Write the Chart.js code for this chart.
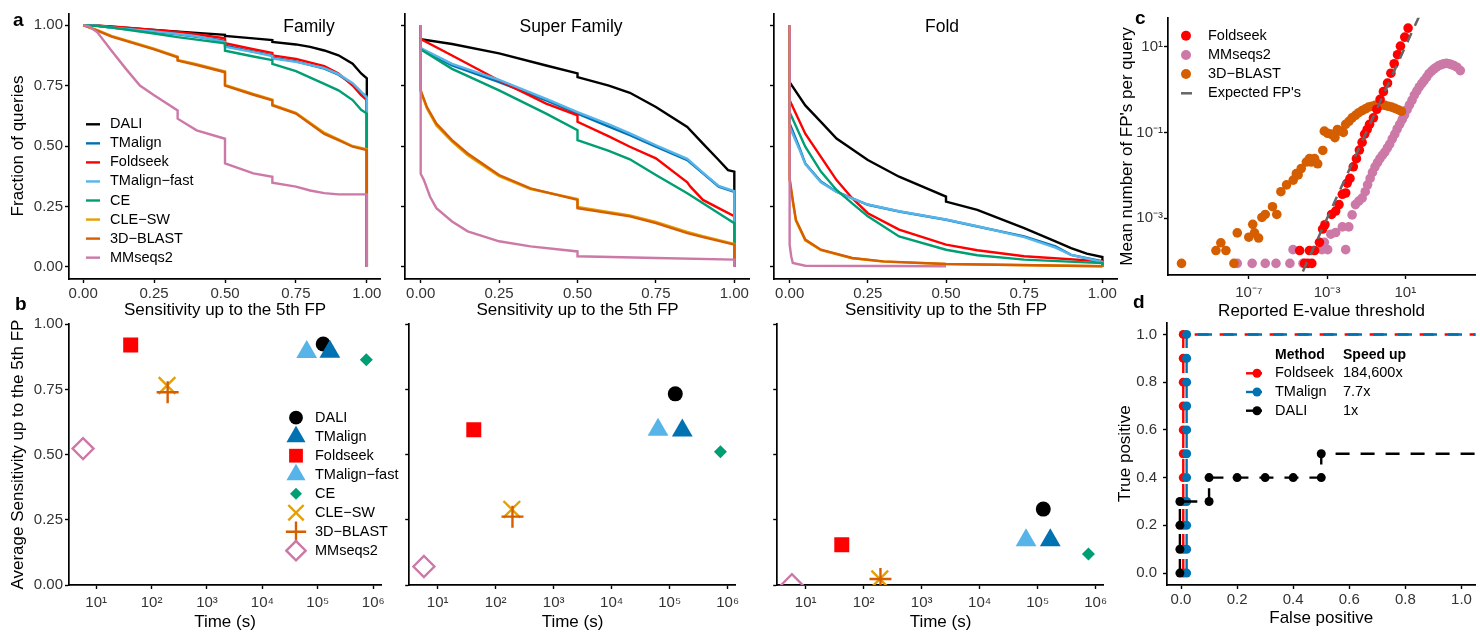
<!DOCTYPE html>
<html>
<head>
<meta charset="utf-8">
<title>Foldseek benchmark</title>
<script src="https://cdn.jsdelivr.net/npm/chart.js@4.4.1/dist/chart.umd.min.js"></script>
<style>
  html, body { margin: 0; padding: 0; background: #fff; }
  body { position: relative; width: 1480px; height: 633px; overflow: hidden; font-family: "Liberation Sans", Arial, Helvetica, sans-serif; }
  canvas { position: absolute; }
  .txt { position: absolute; white-space: nowrap; line-height: 0; color: #000; }
</style>
</head>
<body>
<script>
const FONT = '"Liberation Sans", Arial, Helvetica, sans-serif';
Chart.defaults.font.family = FONT;

const methods = ['DALI', 'TMalign', 'Foldseek', 'TMalign\u2212fast', 'CE', 'CLE\u2212SW', '3D\u2212BLAST', 'MMseqs2'];
const methodColors = ['#000000', '#0072B2', '#FF0000', '#56B4E9', '#009E73', '#E69F00', '#D55E00', '#CC79A7'];
const markerShapes = ['circle', 'triangle', 'rect', 'triangle', 'rectRot', 'crossRot', 'cross', 'rectRot'];
const markerRadius = [7.5, 12, 10.6, 12, 6.5, 11.8, 11, 10.5];

// a: fraction of queries vs sensitivity up to the 5th FP ([x, y], in method order)
const curvesFamily = [
  [[0,1],[0.05,0.998],[0.1,0.993],[0.25,0.98],[0.4,0.968],[0.5,0.96],[0.5,0.955],[0.6,0.945],[0.667,0.938],[0.667,0.93],[0.75,0.92],[0.8,0.91],[0.85,0.895],[0.9,0.875],[0.95,0.84],[0.98,0.8],[1,0.78],[1,0]],
  [[0,1],[0.05,0.997],[0.1,0.99],[0.25,0.972],[0.333,0.962],[0.4,0.952],[0.5,0.935],[0.5,0.915],[0.6,0.89],[0.667,0.875],[0.667,0.865],[0.75,0.85],[0.85,0.82],[0.9,0.795],[0.95,0.755],[0.98,0.72],[1,0.705],[1,0]],
  [[0,1],[0.05,0.998],[0.1,0.994],[0.25,0.98],[0.333,0.972],[0.4,0.962],[0.5,0.945],[0.5,0.925],[0.6,0.9],[0.667,0.885],[0.667,0.875],[0.75,0.86],[0.85,0.83],[0.9,0.8],[0.95,0.75],[0.98,0.71],[1,0.69],[1,0]],
  [[0,1],[0.05,0.997],[0.1,0.99],[0.25,0.974],[0.333,0.963],[0.4,0.954],[0.5,0.93],[0.5,0.91],[0.6,0.888],[0.667,0.872],[0.667,0.862],[0.75,0.848],[0.85,0.822],[0.9,0.797],[0.95,0.76],[0.98,0.725],[1,0.7],[1,0]],
  [[0,1],[0.05,0.996],[0.1,0.99],[0.25,0.965],[0.333,0.95],[0.4,0.94],[0.5,0.925],[0.5,0.894],[0.6,0.87],[0.667,0.855],[0.667,0.84],[0.75,0.81],[0.85,0.757],[0.9,0.73],[0.95,0.69],[0.98,0.65],[1,0.634],[1,0]],
  [[0,1],[0.05,0.979],[0.1,0.955],[0.2,0.92],[0.25,0.903],[0.333,0.87],[0.333,0.856],[0.4,0.838],[0.5,0.808],[0.5,0.753],[0.6,0.715],[0.667,0.692],[0.667,0.671],[0.75,0.637],[0.85,0.555],[0.9,0.528],[0.95,0.5],[1,0.487],[1,0]],
  [[0,1],[0.05,0.977],[0.1,0.952],[0.2,0.917],[0.25,0.9],[0.333,0.867],[0.333,0.853],[0.4,0.835],[0.5,0.805],[0.5,0.75],[0.6,0.712],[0.667,0.689],[0.667,0.668],[0.75,0.634],[0.85,0.55],[0.9,0.524],[0.95,0.497],[1,0.483],[1,0]],
  [[0,1],[0.02,0.995],[0.05,0.97],[0.1,0.894],[0.15,0.82],[0.2,0.75],[0.25,0.71],[0.333,0.647],[0.333,0.613],[0.4,0.565],[0.5,0.53],[0.5,0.428],[0.6,0.387],[0.667,0.373],[0.667,0.348],[0.75,0.332],[0.8,0.316],[0.85,0.305],[0.9,0.3],[1,0.3],[1,0]]
];
const curvesSuperFamily = [
  [[0,1],[0,0.942],[0.1,0.922],[0.25,0.883],[0.4,0.833],[0.5,0.8],[0.5,0.785],[0.6,0.75],[0.667,0.72],[0.75,0.661],[0.85,0.579],[0.9,0.51],[0.95,0.442],[0.98,0.4],[1,0.394],[1,0]],
  [[0,1],[0,0.9],[0.1,0.833],[0.25,0.764],[0.4,0.689],[0.5,0.634],[0.6,0.58],[0.667,0.545],[0.75,0.497],[0.85,0.442],[0.9,0.387],[0.95,0.332],[1,0.31],[1,0]],
  [[0,1],[0,0.942],[0.1,0.874],[0.25,0.771],[0.4,0.675],[0.5,0.627],[0.5,0.6],[0.6,0.54],[0.667,0.497],[0.75,0.449],[0.85,0.35],[0.86,0.332],[0.9,0.277],[0.95,0.243],[1,0.21],[1,0]],
  [[0,1],[0,0.905],[0.1,0.84],[0.25,0.773],[0.4,0.695],[0.5,0.64],[0.6,0.59],[0.667,0.552],[0.75,0.503],[0.85,0.447],[0.9,0.39],[0.95,0.335],[1,0.313],[1,0]],
  [[0,1],[0,0.9],[0.1,0.819],[0.25,0.73],[0.4,0.634],[0.5,0.565],[0.5,0.524],[0.6,0.48],[0.667,0.445],[0.75,0.38],[0.85,0.305],[0.9,0.263],[0.95,0.222],[1,0.181],[1,0]],
  [[0,1],[0,0.725],[0.02,0.655],[0.05,0.585],[0.1,0.518],[0.15,0.462],[0.25,0.375],[0.35,0.322],[0.5,0.281],[0.5,0.248],[0.667,0.213],[0.75,0.186],[0.85,0.145],[0.9,0.127],[1,0.095],[1,0]],
  [[0,1],[0,0.73],[0.02,0.661],[0.05,0.593],[0.1,0.524],[0.15,0.469],[0.25,0.38],[0.35,0.325],[0.5,0.277],[0.5,0.243],[0.667,0.209],[0.75,0.181],[0.85,0.14],[0.9,0.123],[1,0.092],[1,0]],
  [[0,1],[0,0.385],[0.01,0.36],[0.03,0.29],[0.05,0.243],[0.1,0.188],[0.15,0.147],[0.25,0.106],[0.35,0.085],[0.5,0.064],[0.5,0.044],[0.75,0.037],[1,0.03],[1,0]]
];
const curvesFold = [
  [[0,1],[0,0.764],[0.05,0.668],[0.1,0.6],[0.15,0.531],[0.25,0.442],[0.35,0.373],[0.5,0.291],[0.5,0.27],[0.6,0.236],[0.75,0.16],[0.85,0.106],[0.9,0.078],[0.95,0.055],[1,0.041],[1,0]],
  [[0,1],[0,0.593],[0.03,0.497],[0.05,0.428],[0.1,0.353],[0.15,0.311],[0.2,0.284],[0.25,0.257],[0.35,0.229],[0.5,0.195],[0.6,0.167],[0.75,0.126],[0.85,0.085],[0.9,0.05],[1,0.023],[1,0]],
  [[0,1],[0,0.689],[0.05,0.551],[0.1,0.455],[0.15,0.359],[0.2,0.284],[0.25,0.222],[0.35,0.154],[0.5,0.092],[0.6,0.069],[0.75,0.044],[1,0.023],[1,0]],
  [[0,1],[0,0.58],[0.03,0.49],[0.05,0.425],[0.1,0.35],[0.15,0.31],[0.2,0.283],[0.25,0.258],[0.35,0.23],[0.5,0.196],[0.6,0.168],[0.75,0.123],[0.85,0.08],[0.9,0.05],[1,0.02],[1,0]],
  [[0,1],[0,0.64],[0.05,0.497],[0.1,0.394],[0.15,0.318],[0.2,0.263],[0.25,0.209],[0.35,0.126],[0.5,0.071],[0.6,0.048],[0.75,0.03],[1,0.016],[1,0]],
  [[0,1],[0,0.36],[0.01,0.27],[0.02,0.19],[0.05,0.11],[0.1,0.069],[0.2,0.036],[0.3,0.022],[0.5,0.012],[1,0.003],[1,0]],
  [[0,1],[0,0.366],[0.01,0.277],[0.02,0.195],[0.05,0.113],[0.1,0.071],[0.2,0.037],[0.3,0.023],[0.5,0.012],[1,0.003],[1,0]],
  [[0,1],[0,0.092],[0.005,0.044],[0.01,0.016],[0.05,0.005],[0.5,0.003]]
];

// b: runtime (s) and average sensitivity up to the 5th FP, method order
const runtimeSec = [1.25e5, 1.65e5, 42, 6.3e4, 7.5e5, 190, 195, 5.8];
const sensFamily = [0.924, 0.894, 0.92, 0.893, 0.864, 0.765, 0.739, 0.523];
const sensSuperFamily = [0.733, 0.592, 0.595, 0.595, 0.511, 0.29, 0.262, 0.071];
const sensFold = [0.291, 0.172, 0.154, 0.172, 0.119, 0.023, 0.023, 0.001];

// c: [log10 E-value threshold, log10 mean FPs per query]
const fpFoldseek = [[-4.4,-3.75],[-4.15,-4.05],[-3.98,-4.05],[-3.78,-4.05],[-3.9,-3.75],[-3.64,-3.75],[-3.39,-3.56],[-3.23,-3.25],[-3.11,-3.15],[-2.77,-2.91],[-2.56,-2.83],[-2.39,-2.68],[-2.22,-2.44],[-2.05,-2.41],[-1.97,-2.18],[-1.83,-2.07],[-1.66,-1.8],[-1.5,-1.61],[-1.35,-1.41],[-1.21,-1.23],[-1.08,-1.04],[-0.95,-0.93],[-0.83,-0.81],[-0.63,-0.66],[-0.46,-0.46],[-0.29,-0.23],[-0.12,-0.05],[0.09,0.15],[0.26,0.38],[0.43,0.6],[0.6,0.81],[0.75,1.01],[0.97,1.22],[1.14,1.43]];
const fpMMseqs2 = [[-7.59,-4.05],[-6.83,-4.05],[-6.16,-4.05],[-5.61,-4.05],[-4.9,-4.05],[-4.74,-3.73],[-4.23,-4.05],[-3.26,-3.73],[-3.14,-3.56],[-2.97,-3.73],[-2.81,-3.37],[-2.56,-3.33],[-2.22,-3.2],[-2.05,-3.73],[-1.89,-3.2],[-1.72,-2.92],[-1.55,-2.68],[-1.38,-2.6],[-1.21,-2.53],[-1.05,-2.38],[-0.93,-2.22],[-0.8,-2.07],[-0.68,-1.93],[-0.55,-1.8],[-0.42,-1.7],[-0.3,-1.61],[-0.17,-1.53],[-0.05,-1.46],[0.08,-1.36],[0.2,-1.27],[0.33,-1.15],[0.46,-1.04],[0.58,-0.92],[0.71,-0.81],[0.84,-0.7],[0.96,-0.59],[1.09,-0.47],[1.21,-0.36],[1.34,-0.25],[1.46,-0.13],[1.59,-0.03],[1.71,0.06],[1.84,0.14],[1.96,0.21],[2.09,0.29],[2.21,0.37],[2.34,0.43],[2.47,0.48],[2.59,0.52],[2.72,0.56],[2.85,0.58],[2.97,0.6],[3.1,0.61],[3.23,0.6],[3.35,0.58],[3.48,0.56],[3.64,0.52],[3.81,0.44]];
const fp3DBLAST = [[-10.44,-4.05],[-8.68,-3.75],[-8.43,-3.57],[-8.17,-3.75],[-7.76,-4.05],[-7.59,-3.34],[-7.0,-3.44],[-6.8,-3.14],[-6.71,-3.34],[-6.5,-3.46],[-6.33,-2.98],[-6.16,-2.91],[-5.79,-2.73],[-5.57,-2.91],[-5.36,-2.38],[-5.07,-2.22],[-4.73,-2.11],[-4.57,-1.96],[-4.48,-1.99],[-4.32,-1.84],[-4.06,-1.69],[-3.9,-1.61],[-3.81,-1.69],[-3.64,-1.61],[-3.48,-1.73],[-3.22,-1.42],[-3.14,-0.97],[-2.97,-1.02],[-2.81,-1.04],[-2.6,-1.12],[-2.47,-0.93],[-2.3,-0.97],[-2.17,-1.0],[-2.05,-0.81],[-1.88,-0.74],[-1.72,-0.66],[-1.55,-0.6],[-1.38,-0.54],[-1.21,-0.49],[-1.04,-0.45],[-0.88,-0.41],[-0.71,-0.39],[-0.54,-0.37],[-0.37,-0.37],[-0.21,-0.36],[-0.04,-0.37],[0.13,-0.39],[0.3,-0.41],[0.47,-0.44],[0.63,-0.47],[0.8,-0.51]];
const fpExpected = [[-5,-5],[3,3]];

// d: [false positive, true positive]
const rocFoldseek = [[0.008,0],[0.008,0.1],[0.008,0.2],[0.008,0.3],[0.008,0.4],[0.008,0.5],[0.008,0.6],[0.008,0.7],[0.008,0.8],[0.008,0.9],[0.008,1],[1.3,1]];
const rocTMalign = [[0.02,0],[0.02,0.1],[0.02,0.2],[0.02,0.3],[0.02,0.4],[0.02,0.5],[0.02,0.6],[0.02,0.7],[0.02,0.8],[0.02,0.9],[0.02,1],[1.3,1]];
const rocDALI = [[-0.004,0],[-0.004,0.1],[-0.004,0.2],[-0.004,0.3],[0.1,0.3],[0.1,0.4],[0.2,0.4],[0.3,0.4],[0.4,0.4],[0.5,0.4],[0.5,0.5],[1.3,0.5]];
const rocMethods = ['Foldseek', 'TMalign', 'DALI'];
const rocColors = ['#FF0000', '#0072B2', '#000000'];
const speedUp = ['184,600x', '7.7x', '1x'];

const sensTicks = [0, 0.25, 0.5, 0.75, 1];
const timeTicks = [1e1, 1e2, 1e3, 1e4, 1e5, 1e6];
const evalueTicks = [1e-7, 1e-3, 1e1];
const fpTicks = [1e-3, 1e-1, 1e1];
const rateTicks = [0, 0.2, 0.4, 0.6, 0.8, 1];

const SUP = {'-': '\u207B', '0': '\u2070', '1': '\u00B9', '2': '\u00B2', '3': '\u00B3', '4': '\u2074', '5': '\u2075', '6': '\u2076', '7': '\u2077', '8': '\u2078', '9': '\u2079'};
const pow10 = v => '10' + String(Math.round(Math.log10(v))).split('').map(c => SUP[c]).join('');
const fixed = n => v => Number(v).toFixed(n);
const blank = () => '';
const fromLog = arr => arr.map(p => ({x: Math.pow(10, p[0]), y: Math.pow(10, p[1])}));
const xy = arr => arr.map(p => ({x: p[0], y: p[1]}));

function axis(o) {
  const vertical = o.pos === 'left';
  return {
    type: o.log ? 'logarithmic' : 'linear',
    position: o.pos,
    min: o.min, max: o.max,
    border: {display: true, color: '#000', width: 1.7},
    grid: {display: true, drawOnChartArea: false, drawTicks: true, tickLength: 4, tickWidth: 1.4, tickColor: '#000', color: '#000'},
    ticks: {autoSkip: false, maxRotation: 0, minRotation: 0, padding: o.pad, color: '#333', font: {size: 15}, callback: o.fmt},
    afterBuildTicks: s => { s.ticks = o.ticks.map(v => ({value: v})); },
    afterFit: s => {
      if (vertical) s.width = o.size; else s.height = o.size;
      s.paddingLeft = s.paddingRight = s.paddingTop = s.paddingBottom = 0;
    },
    title: o.title ? {display: true, text: o.title, color: '#000', font: {size: 17}, padding: {top: o.tpad, bottom: o.tpad}} : {display: false}
  };
}

function drawMarker(ctx, shape, x, y, r) {
  ctx.beginPath();
  if (shape === 'circle') {
    ctx.arc(x, y, r, 0, Math.PI * 2);
  } else if (shape === 'triangle') {
    ctx.moveTo(x, y - r);
    ctx.lineTo(x + r * 0.866, y + r * 0.5);
    ctx.lineTo(x - r * 0.866, y + r * 0.5);
    ctx.closePath();
  } else if (shape === 'rect') {
    const s = r * Math.SQRT1_2;
    ctx.rect(x - s, y - s, 2 * s, 2 * s);
  } else if (shape === 'rectRot') {
    ctx.moveTo(x - r, y); ctx.lineTo(x, y - r); ctx.lineTo(x + r, y); ctx.lineTo(x, y + r);
    ctx.closePath();
  } else if (shape === 'cross') {
    ctx.moveTo(x - r, y); ctx.lineTo(x + r, y); ctx.moveTo(x, y - r); ctx.lineTo(x, y + r);
  } else if (shape === 'crossRot') {
    const s = r * Math.SQRT1_2;
    ctx.moveTo(x - s, y - s); ctx.lineTo(x + s, y + s); ctx.moveTo(x + s, y - s); ctx.lineTo(x - s, y + s);
  }
}

// legend keys drawn on the chart canvas, given in page pixels
function overlayPlugin(items, ox, oy) {
  return {
    id: 'overlay',
    afterDraw(chart) {
      const ctx = chart.ctx;
      ctx.save();
      ctx.translate(-ox, -oy);
      items.forEach(it => {
        if (it.line) {
          ctx.beginPath();
          ctx.setLineDash([]);
          ctx.strokeStyle = it.color;
          ctx.lineWidth = it.width || 2.4;
          ctx.moveTo(it.line[0], it.line[1]);
          ctx.lineTo(it.line[2], it.line[3]);
          ctx.stroke();
        }
        if (it.marker) {
          drawMarker(ctx, it.marker, it.x, it.y, it.r);
          if (it.open || it.marker.indexOf('cross') === 0) {
            ctx.strokeStyle = it.color; ctx.lineWidth = 2.4; ctx.stroke();
          } else {
            ctx.fillStyle = it.color; ctx.fill();
          }
        }
        if (it.text) {
          ctx.font = (it.bold ? 'bold ' : '') + (it.size || 14.5) + 'px ' + FONT;
          ctx.fillStyle = '#000';
          ctx.textBaseline = 'middle';
          ctx.textAlign = 'left';
          ctx.fillText(it.text, it.x, it.y);
        }
      });
      ctx.restore();
    }
  };
}

function makeChart(g, config) {
  const c = document.createElement('canvas');
  c.width = g.w; c.height = g.h;
  c.style.left = g.x + 'px'; c.style.top = g.y + 'px';
  c.style.width = g.w + 'px'; c.style.height = g.h + 'px';
  document.body.appendChild(c);
  config.options.responsive = false;
  config.options.animation = false;
  config.options.events = [];
  config.options.layout = {padding: {top: g.pt || 0, left: 0, right: g.pr || 0, bottom: 0}};
  config.options.plugins = {legend: {display: false}, tooltip: {enabled: false}, title: {display: false}};
  config.plugins = [overlayPlugin(g.items || [], g.x, g.y)];
  return new Chart(c, config);
}

function text(str, x, baseline, size, opt) {
  opt = opt || {};
  const d = document.createElement('div');
  d.className = 'txt';
  d.textContent = str;
  d.style.fontSize = size + 'px';
  d.style.fontWeight = opt.bold ? 'bold' : 'normal';
  d.style.top = (baseline - 0.3465 * size) + 'px';
  d.style.left = x + 'px';
  if (opt.center) d.style.transform = 'translateX(-50%)';
  document.body.appendChild(d);
}

// ---------- a: sensitivity curves ----------
function curveChart(g, curves, first) {
  makeChart(g, {
    type: 'scatter',
    data: {
      datasets: methods.map((m, i) => ({
        label: m,
        data: xy(curves[i]),
        showLine: true,
        borderColor: methodColors[i],
        borderWidth: 2.4,
        pointRadius: 0,
        tension: 0,
        order: methods.length - 1 - i
      }))
    },
    options: {
      scales: {
        x: axis({pos: 'bottom', min: -0.05, max: 1.05, ticks: sensTicks, fmt: fixed(2), pad: 2, size: 42, title: 'Sensitivity up to the 5th FP', tpad: 0}),
        y: first
          ? axis({pos: 'left', min: -0.05, max: 1.05, ticks: sensTicks, fmt: fixed(2), pad: 2, size: 69, title: 'Fraction of queries', tpad: 7.8})
          : axis({pos: 'left', min: -0.05, max: 1.05, ticks: sensTicks, fmt: blank, pad: 0, size: 10})
      }
    }
  });
}

const aLegend = [];
methods.forEach((m, i) => {
  const y = 124.3 + 19.05 * i;
  aLegend.push({line: [86, y, 100, y], color: methodColors[i]});
  aLegend.push({text: m, x: 110, y: y});
});

curveChart({x: 0, y: 13, w: 381, h: 308, items: aLegend}, curvesFamily, true);
curveChart({x: 395, y: 13, w: 355, h: 308}, curvesSuperFamily, false);
curveChart({x: 764, y: 13, w: 354, h: 308}, curvesFold, false);

// ---------- b: sensitivity vs runtime ----------
function speedChart(g, sens, first) {
  makeChart(g, {
    type: 'scatter',
    data: {
      datasets: methods.map((m, i) => {
        const open = i === 7, cross = markerShapes[i].indexOf('cross') === 0;
        return {
          label: m,
          data: [{x: runtimeSec[i], y: sens[i]}],
          pointStyle: markerShapes[i],
          pointRadius: markerRadius[i],
          backgroundColor: open ? 'rgba(0,0,0,0)' : methodColors[i],
          borderColor: methodColors[i],
          borderWidth: (open || cross) ? 2.4 : 0,
          clip: 0,
          order: methods.length - 1 - i
        };
      })
    },
    options: {
      scales: {
        x: axis({pos: 'bottom', log: true, min: Math.pow(10, 0.51), max: Math.pow(10, 6.14), ticks: timeTicks, fmt: pow10, pad: 5, size: 48, title: 'Time (s)', tpad: 0}),
        y: first
          ? axis({pos: 'left', min: 0, max: 1, ticks: sensTicks, fmt: fixed(2), pad: 2, size: 69, title: 'Average Sensitivity up to the 5th FP', tpad: 7.8})
          : axis({pos: 'left', min: 0, max: 1, ticks: sensTicks, fmt: blank, pad: 0, size: 10})
      }
    }
  });
}

const bLegend = [];
methods.forEach((m, i) => {
  const y = 417.7 + 19 * i;
  bLegend.push({marker: markerShapes[i], x: 296, y: y, r: markerRadius[i] * 0.92, color: methodColors[i], open: i === 7});
  bLegend.push({text: m, x: 315, y: y});
});

speedChart({x: 0, y: 310, w: 402, h: 323, pt: 12, pr: 21, items: bLegend}, sensFamily, true);
speedChart({x: 395, y: 310, w: 355, h: 323, pt: 12}, sensSuperFamily, false);
speedChart({x: 763, y: 310, w: 355, h: 323, pt: 12}, sensFold, false);

// ---------- c: false positives vs E-value ----------
const cLegend = [
  {marker: 'circle', x: 1186, y: 35.7, r: 5, color: '#FF0000'}, {text: 'Foldseek', x: 1208, y: 35.7},
  {marker: 'circle', x: 1186, y: 55, r: 5, color: '#CC79A7'}, {text: 'MMseqs2', x: 1208, y: 55},
  {marker: 'circle', x: 1186, y: 74, r: 5, color: '#D55E00'}, {text: '3D\u2212BLAST', x: 1208, y: 74},
  {line: [1181, 93.3, 1192, 93.3], color: '#666666', width: 2.5}, {text: "Expected FP's", x: 1208, y: 93.3}
];
makeChart({x: 1110, y: 13, w: 370, h: 309, items: cLegend}, {
  type: 'scatter',
  data: {
    datasets: [
      {label: "Expected FP's", data: fromLog(fpExpected), showLine: true, borderColor: '#666666', borderWidth: 2.5, borderDash: [10, 8], pointRadius: 0, order: 0},
      {label: 'Foldseek', data: fromLog(fpFoldseek), pointRadius: 4.8, backgroundColor: '#FF0000', borderWidth: 0, order: 1},
      {label: '3D-BLAST', data: fromLog(fp3DBLAST), pointRadius: 4.8, backgroundColor: '#D55E00', borderWidth: 0, order: 2},
      {label: 'MMseqs2', data: fromLog(fpMMseqs2), pointRadius: 4.8, backgroundColor: '#CC79A7', borderWidth: 0, order: 3}
    ]
  },
  options: {
    scales: {
      x: axis({pos: 'bottom', log: true, min: Math.pow(10, -11.13), max: Math.pow(10, 4.57), ticks: evalueTicks, fmt: pow10, pad: 5, size: 47, title: 'Reported E-value threshold', tpad: 0}),
      y: axis({pos: 'left', log: true, min: Math.pow(10, -4.32), max: Math.pow(10, 1.67), ticks: fpTicks, fmt: pow10, pad: 1, size: 58, title: "Mean number of FP's per query", tpad: 6.8})
    }
  }
});

// ---------- d: ROC-like step curves ----------
const dLegend = [
  {text: 'Method', x: 1275, y: 355, bold: true, size: 14},
  {text: 'Speed up', x: 1343, y: 355, bold: true, size: 14}
];
rocMethods.forEach((m, i) => {
  const y = 373.3 + 18.7 * i;
  dLegend.push({line: [1246, y, 1262, y], color: rocColors[i]});
  dLegend.push({marker: 'circle', x: 1257, y: y, r: 4.5, color: rocColors[i]});
  dLegend.push({text: m, x: 1275, y: y});
  dLegend.push({text: speedUp[i], x: 1343, y: y});
});
const rocData = [rocFoldseek, rocTMalign, rocDALI];
makeChart({x: 1108, y: 318, w: 372, h: 311, items: dLegend}, {
  type: 'scatter',
  data: {
    datasets: rocMethods.map((m, i) => ({
      label: m,
      data: xy(rocData[i]),
      showLine: true,
      borderColor: rocColors[i],
      backgroundColor: rocColors[i],
      borderWidth: 2.4,
      borderDash: [14, 11],
      pointRadius: c => c.dataIndex === rocData[i].length - 1 ? 0 : 4.5,
      pointBorderWidth: 0,
      order: [2, 1, 0][i]
    }))
  },
  options: {
    scales: {
      x: axis({pos: 'bottom', min: -0.05, max: 1.05, ticks: rateTicks, fmt: fixed(1), pad: 2, size: 44, title: 'False positive', tpad: 0}),
      y: axis({pos: 'left', min: -0.05, max: 1.05, ticks: rateTicks, fmt: fixed(1), pad: 6, size: 59, title: 'True positive', tpad: 6.8})
    }
  }
});

// ---------- panel titles and letters ----------
text('Family', 309, 32.3, 17.5, {center: true});
text('Super Family', 571, 32.3, 17.5, {center: true});
text('Fold', 942, 32.3, 17.5, {center: true});
text('a', 13, 27, 19, {bold: true});
text('b', 15, 310.5, 19, {bold: true});
text('c', 1135, 25, 19, {bold: true});
text('d', 1133, 308.3, 19, {bold: true});
</script>
</body>
</html>
